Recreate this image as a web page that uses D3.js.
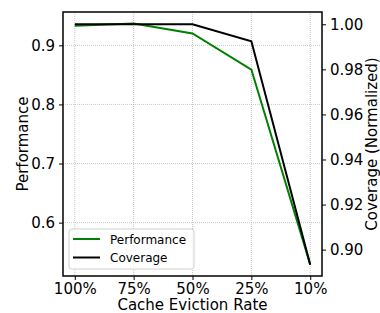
<!DOCTYPE html>
<html>
<head>
<meta charset="utf-8">
<script src="https://cdn.jsdelivr.net/npm/d3@7"></script>
<style>
  body { margin: 0; background: #fff; }
  svg text { font-family: "DejaVu Sans", sans-serif; fill: #000; }
</style>
</head>
<body>
<div id="chart"></div>
<script>
const categories = ['100%', '75%', '50%', '25%', '10%'];
const performance = [0.933, 0.937, 0.920, 0.859, 0.529];
const coverage = [1.000, 1.000, 1.000, 0.9925, 0.8933];
const perfTicks = [0.6, 0.7, 0.8, 0.9];
const covTicks = [0.90, 0.92, 0.94, 0.96, 0.98, 1.00];

const width = 380, height = 313;
const margin = { top: 12, right: 58, bottom: 37, left: 63 };
const w = width - margin.left - margin.right;
const h = height - margin.top - margin.bottom;

const svg = d3.select('#chart').append('svg')
  .attr('width', width).attr('height', height);
const g = svg.append('g').attr('transform', `translate(${margin.left},${margin.top})`);

const x = d3.scalePoint().domain(categories).range([0, w]).padding(0.2);
const yL = d3.scaleLinear().domain([0.5097, 0.9564]).range([h, 0]);
const yR = d3.scaleLinear().domain([0.8883, 1.00545]).range([h, 0]);

// grid
g.append('g').selectAll('line').data(categories).enter().append('line')
  .attr('x1', d => x(d)).attr('x2', d => x(d)).attr('y1', 0).attr('y2', h)
  .attr('stroke', '#b8b8b8').attr('stroke-width', 0.8).attr('stroke-dasharray', '1,1');
g.append('g').selectAll('line').data(perfTicks).enter().append('line')
  .attr('x1', 0).attr('x2', w).attr('y1', d => yL(d)).attr('y2', d => yL(d))
  .attr('stroke', '#b8b8b8').attr('stroke-width', 0.8).attr('stroke-dasharray', '1,1');

// lines
const lineL = d3.line().x((d, i) => x(categories[i])).y(d => yL(d));
const lineR = d3.line().x((d, i) => x(categories[i])).y(d => yR(d));
g.append('path').datum(performance).attr('d', lineL)
  .attr('fill', 'none').attr('stroke', 'green').attr('stroke-width', 2);
g.append('path').datum(coverage).attr('d', lineR)
  .attr('fill', 'none').attr('stroke', 'black').attr('stroke-width', 2);

// axes
const styleAxis = sel => {
  sel.select('.domain').remove();
  sel.selectAll('.tick line').attr('stroke', '#000').attr('stroke-width', 1);
  sel.selectAll('.tick text').attr('font-size', 15);
};
g.append('g').attr('transform', `translate(0,${h})`)
  .call(d3.axisBottom(x).tickSize(4).tickPadding(3)).call(styleAxis);
g.append('g')
  .call(d3.axisLeft(yL).tickValues(perfTicks).tickFormat(d3.format('.1f')).tickSize(4).tickPadding(4))
  .call(styleAxis);
g.append('g').attr('transform', `translate(${w},0)`)
  .call(d3.axisRight(yR).tickValues(covTicks).tickFormat(d3.format('.2f')).tickSize(4).tickPadding(4))
  .call(styleAxis);

// frame
g.append('rect').attr('width', w).attr('height', h)
  .attr('fill', 'none').attr('stroke', '#000').attr('stroke-width', 1.5);

// axis labels
svg.append('text').attr('x', margin.left + w / 2).attr('y', height - 3)
  .attr('text-anchor', 'middle').attr('font-size', 15).text('Cache Eviction Rate');
svg.append('text').attr('transform', `translate(28,${margin.top + h / 2}) rotate(-90)`)
  .attr('text-anchor', 'middle').attr('font-size', 15).text('Performance');
svg.append('text').attr('transform', `translate(377,${margin.top + h / 2}) rotate(-90)`)
  .attr('text-anchor', 'middle').attr('font-size', 15).text('Coverage (Normalized)');

// legend
const legend = g.append('g').attr('transform', 'translate(6,217)');
legend.append('rect').attr('width', 125).attr('height', 40).attr('rx', 3)
  .attr('fill', '#fff').attr('fill-opacity', 0.8).attr('stroke', '#d0d0d0');
const items = [['Performance', 'green'], ['Coverage', 'black']];
items.forEach(([name, color], i) => {
  const yy = 10 + i * 18.5;
  legend.append('line').attr('x1', 4).attr('x2', 31).attr('y1', yy).attr('y2', yy)
    .attr('stroke', color).attr('stroke-width', 2);
  legend.append('text').attr('x', 41).attr('y', yy + 4.5).attr('font-size', 12).text(name);
});
</script>
</body>
</html>
